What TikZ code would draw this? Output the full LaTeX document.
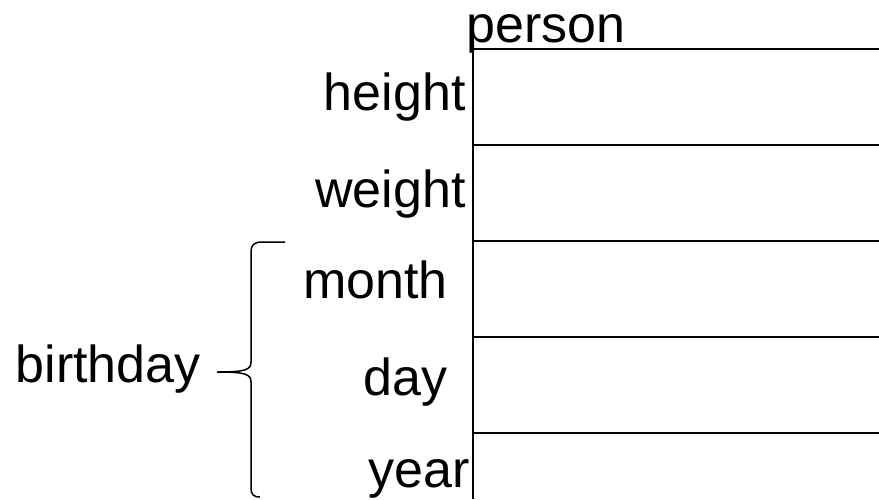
\documentclass[tikz,border=0pt]{standalone}
\usepackage{fontspec}
\setmainfont{Liberation Sans}
\usetikzlibrary{positioning}
\begin{document}
\begin{tikzpicture}[x=0.5pt,y=-0.5pt,
  feld/.style={font=\fontsize{26}{30}\selectfont,inner sep=0pt,anchor=base east},
  linie/.style={black,line width=1pt}]
\useasboundingbox (0,0) rectangle (879,499);
  \pgfmathsetmacro{\xL}{473}
  \pgfmathsetmacro{\xR}{879}
%Zeilen der Tabelle
\foreach \y in {49,145,241,337,433}{
\draw[linie] (\xL,\y) -- (\xR,\y);
}
\coordinate (oben) at (\xL,46);
\coordinate (unten) at (\xL,499);
\draw[linie] (oben) -- (unten);
%Beschriftungen
\node[feld,anchor=base west] (person) at (466,42) {person};
\node[feld] (height) at (466,110) {height};
\node[feld] (weight) at (466,207) {weight};
\node[feld] (month) at (448,298) {month};
\node[feld] (day) at (448,395) {day};
\node[feld] (year) at (470,487) {year};
\node[feld] (birthday) at (201,382) {birthday};
%Klammer
\draw[black,line width=0.75pt] (285,242) -- (262,242) .. controls (254,242) and (251,245) .. (251,252)
  -- (251,362) .. controls (251,370) and (245,372) .. (217,372)
  .. controls (245,372) and (251,374) .. (251,382)
  -- (251,488) .. controls (251,494) and (253,497) .. (260,497);
\end{tikzpicture}
\end{document}
